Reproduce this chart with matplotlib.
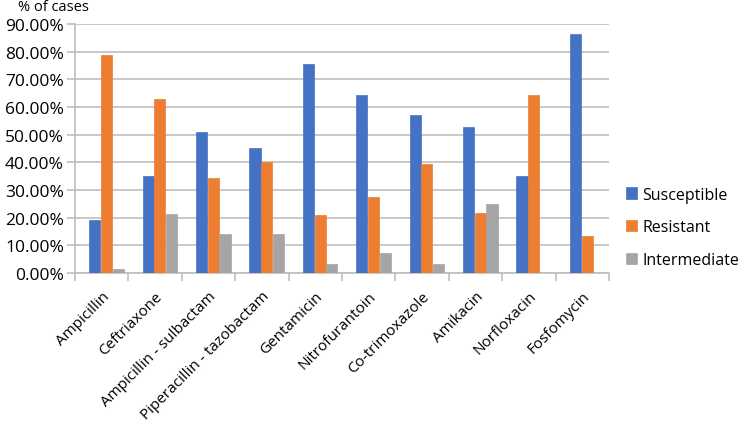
import numpy as np
import matplotlib.pyplot as plt
from matplotlib.ticker import PercentFormatter

plt.rcParams["font.family"] = ["Open Sans", "DejaVu Sans"]

drugs = ["Ampicillin", "Ceftriaxone", "Ampicillin - sulbactam", "Piperacillin - tazobactam",
         "Gentamicin", "Nitrofurantoin", "Co-trimoxazole", "Amikacin", "Norfloxacin", "Fosfomycin"]
susceptible = [19.2, 35.0, 51.0, 45.3, 75.5, 64.5, 57.0, 52.8, 35.2, 86.5]
resistant = [78.8, 62.8, 34.3, 40.2, 21.0, 27.5, 39.3, 21.8, 64.5, 13.3]
intermediate = [1.5, 21.5, 14.0, 14.0, 3.2, 7.3, 3.2, 25.0, 0.0, 0.0]

series = [("Susceptible", susceptible, "#4472C4"),
          ("Resistant", resistant, "#ED7D31"),
          ("Intermediate", intermediate, "#A5A5A5")]

fig = plt.figure(figsize=(7.5, 4.35), dpi=100)
ax = fig.add_axes([0.1, 0.37, 0.712, 0.5725])

x = np.arange(len(drugs))
w = 0.22
for i, (name, vals, col) in enumerate(series):
    ax.bar(x + (i - 1) * w + 0.09, vals, width=w * 0.95, color=col, label=name,
           edgecolor=col, linewidth=0.5, zorder=3)

ax.set_xlim(-0.5, len(drugs) - 0.5)
ax.set_ylim(0, 90)
ax.set_yticks(np.arange(0, 91, 10))
ax.yaxis.set_major_formatter(PercentFormatter(decimals=2))
ax.grid(axis="y", color="#bfbfbf", linewidth=1.2, zorder=0)
for s in ["top", "right"]:
    ax.spines[s].set_visible(False)
ax.spines["left"].set_color("#bfbfbf")
ax.spines["bottom"].set_color("#bfbfbf")
ax.spines["left"].set_linewidth(1.2)
ax.spines["bottom"].set_linewidth(1.2)

ax.set_xticks(np.arange(len(drugs) + 1) - 0.5, minor=True)
ax.set_xticks(x)
ax.set_xticklabels(drugs, rotation=45, ha="right", rotation_mode="anchor", fontsize=11)
ax.tick_params(axis="x", which="major", length=0, pad=11)
ax.tick_params(axis="x", which="minor", length=6, color="#bfbfbf", width=1.2)
ax.tick_params(axis="y", length=6, color="#bfbfbf", width=1.2, labelsize=12.5, pad=2)

fig.text(0.024, 0.982, "% of cases", fontsize=10.5, va="center", ha="left")

ax.legend(loc="upper left", bbox_to_anchor=(1.005, 0.405), frameon=False,
          fontsize=11.5, handlelength=0.7, handleheight=0.7, handletextpad=0.3,
          labelspacing=1.05)

fig.savefig("out.png", dpi=100)
